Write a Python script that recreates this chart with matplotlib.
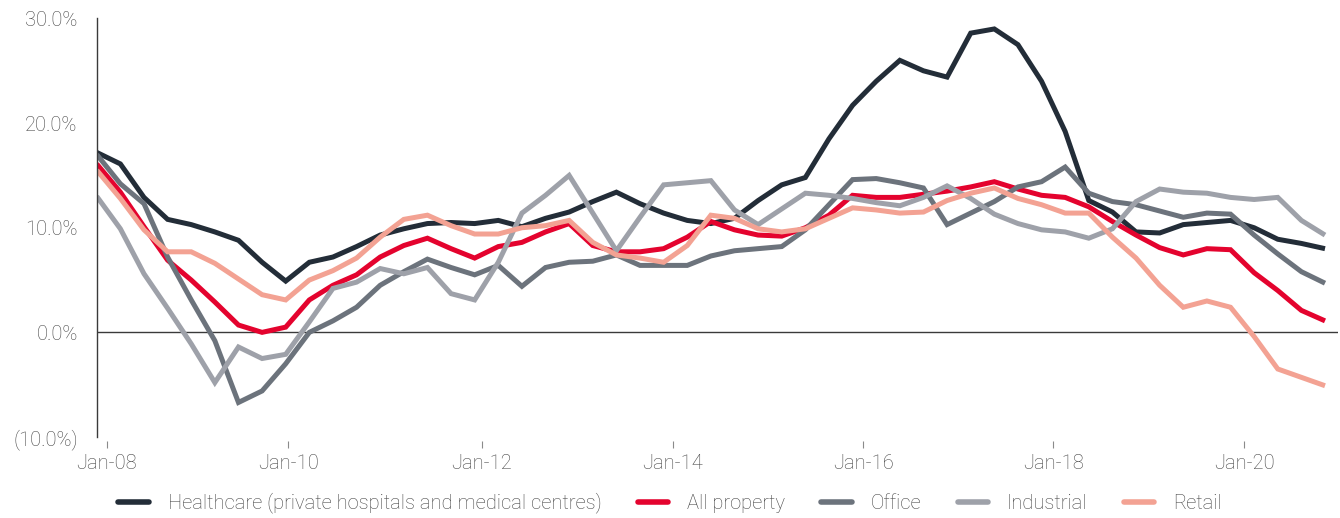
import matplotlib
matplotlib.use('Agg')
import matplotlib.pyplot as plt
import numpy as np

# quarterly growth, %
healthcare = [17.2, 16.1, 12.9, 10.8, 10.3, 9.6, 8.8, 6.7, 4.9, 6.7,
              7.2, 8.2, 9.3, 9.9, 10.4, 10.5, 10.4, 10.7, 10.1, 10.9,
              11.5, 12.5, 13.4, 12.3, 11.4, 10.7, 10.4, 10.9, 12.6, 14.1,
              14.8, 18.5, 21.7, 24.0, 26.0, 25.0, 24.4, 28.6, 29.0, 27.5,
              24.0, 19.2, 12.6, 11.5, 9.6, 9.5, 10.3, 10.5, 10.7, 10.0,
              8.9, 8.5, 8.0]
all_property = [16.1, 13.4, 10.1, 6.9, 5.0, 2.9, 0.7, 0.0, 0.5, 3.1,
                4.5, 5.5, 7.2, 8.3, 9.0, 8.0, 7.1, 8.2, 8.6, 9.6,
                10.4, 8.3, 7.7, 7.7, 8.0, 9.1, 10.6, 9.8, 9.3, 9.2,
                10.0, 11.2, 13.1, 12.9, 12.9, 13.2, 13.5, 13.9, 14.4, 13.7,
                13.1, 12.9, 12.0, 10.6, 9.3, 8.1, 7.4, 8.0, 7.9, 5.7,
                4.0, 2.1, 1.1]
office = [17.0, 14.2, 12.3, 7.2, 3.1, -0.8, -6.7, -5.6, -3.0, 0.0,
          1.1, 2.4, 4.5, 5.8, 7.0, 6.2, 5.5, 6.4, 4.4, 6.2,
          6.7, 6.8, 7.4, 6.4, 6.4, 6.4, 7.3, 7.8, 8.0, 8.2,
          9.8, 12.2, 14.6, 14.7, 14.3, 13.8, 10.3, 11.4, 12.5, 13.9,
          14.4, 15.8, 13.3, 12.5, 12.2, 11.6, 11.0, 11.4, 11.3, 9.3,
          7.5, 5.8, 4.7]
industrial = [13.0, 9.9, 5.6, 2.3, -1.1, -4.8, -1.4, -2.5, -2.1, 1.0,
              4.2, 4.8, 6.1, 5.6, 6.2, 3.7, 3.1, 6.7, 11.4, 13.1,
              15.0, 11.4, 7.8, 11.0, 14.1, 14.3, 14.5, 11.7, 10.3, 11.8,
              13.3, 13.1, 12.8, 12.4, 12.1, 12.9, 14.0, 12.8, 11.3, 10.4,
              9.8, 9.6, 9.0, 9.9, 12.5, 13.7, 13.4, 13.3, 12.9, 12.7,
              12.9, 10.7, 9.3]
retail = [15.5, 12.8, 9.8, 7.7, 7.7, 6.6, 5.1, 3.6, 3.1, 5.0,
          5.9, 7.1, 9.1, 10.8, 11.2, 10.2, 9.4, 9.4, 10.0, 10.2,
          10.7, 8.6, 7.4, 7.1, 6.7, 8.3, 11.2, 10.9, 9.9, 9.6,
          9.9, 10.9, 11.9, 11.7, 11.4, 11.5, 12.6, 13.3, 13.8, 12.8,
          12.2, 11.4, 11.4, 9.1, 7.1, 4.5, 2.4, 3.0, 2.4, -0.4,
          -3.5, -4.3, -5.1]

series_names = ['Healthcare (private hospitals and medical centres)',
                'All property', 'Office', 'Industrial', 'Retail']
x_labels = ['Jan-08', 'Jan-10', 'Jan-12', 'Jan-14', 'Jan-16', 'Jan-18', 'Jan-20']
y_values = [30, 20, 10, 0, -10]
y_labels = ['30.0%', '20.0%', '10.0%', '0.0%', '(10.0%)']

TEXT = '#444444'
FONT = 'Roboto'


def main():
    plt.rcParams['font.family'] = [FONT, 'DejaVu Sans']
    plt.rcParams['font.weight'] = 'light'

    fig = plt.figure(figsize=(13.4, 5.18), dpi=100)
    ax = fig.add_axes([0.0722, 0.1564, 0.9263, 0.8079])

    colors = ['#232d38', '#e4032e', '#6c737c', '#9ea1a9', '#f3a293']
    data = [healthcare, all_property, office, industrial, retail]
    x = np.arange(len(healthcare))

    ax.axhline(0, color='#3a3a3a', lw=1.0, zorder=0)
    for name, vals, c in zip(series_names, data, colors):
        ax.plot(x, vals, color=c, lw=3.6, label=name,
                solid_capstyle='butt', solid_joinstyle='miter')

    ax.set_xlim(0, 52.55)
    ax.set_ylim(-10, 30)

    # axis cosmetics
    for s in ['top', 'right']:
        ax.spines[s].set_visible(False)
    ax.spines['bottom'].set_position(('outward', 3))
    ax.spines['bottom'].set_visible(False)
    ax.spines['left'].set_color('#3a3a3a')
    ax.spines['left'].set_linewidth(1.0)

    # tick positions measured in quarter units
    tick_pos = [0.42, 8.11, 16.3, 24.39, 32.46, 40.5, 48.59]
    ax.set_xticks(tick_pos)
    ax.set_xticklabels(x_labels)
    ax.set_yticks(y_values)
    ax.set_yticklabels(y_labels)
    ax.tick_params(axis='y', length=0, pad=13.7, labelsize=14.5, labelcolor=TEXT)
    ax.tick_params(axis='x', length=5, width=0.8, color='#8a8a8a', pad=4.5,
                   labelsize=14.5, labelcolor=TEXT)

    leg = fig.legend(ncol=5, loc='center', bbox_to_anchor=(0.5, 0.029),
                     frameon=False, fontsize=14.5, handlelength=1.5,
                     handletextpad=0.95, columnspacing=1.8)
    for t in leg.get_texts():
        t.set_color(TEXT)
    for h in leg.get_lines():
        h.set_solid_capstyle('round')
        h.set_linewidth(4.0)

    fig.savefig('out.png', dpi=100)


if __name__ == "__main__":
    main()
